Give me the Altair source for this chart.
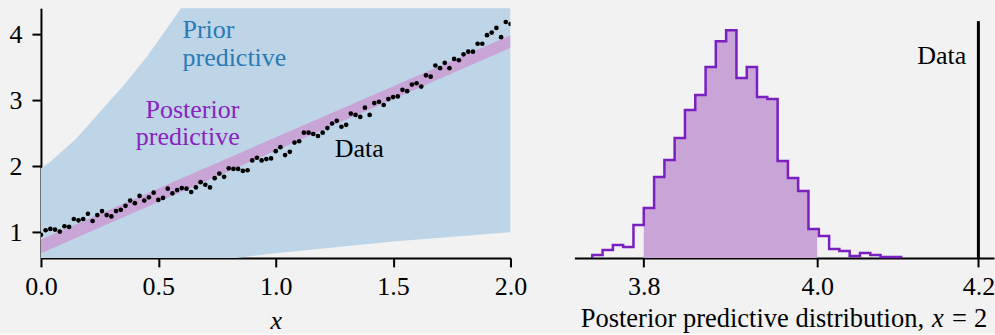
import altair as alt
import pandas as pd

FONT = "Liberation Serif"

# ---------------- data ----------------
data_x = [0.00, 0.02, 0.04, 0.06, 0.08, 0.10, 0.12, 0.14, 0.16, 0.18,
          0.20, 0.22, 0.24, 0.26, 0.28, 0.30, 0.32, 0.34, 0.36, 0.38,
          0.40, 0.42, 0.44, 0.46, 0.48, 0.50, 0.52, 0.54, 0.56, 0.58,
          0.60, 0.62, 0.64, 0.66, 0.68, 0.70, 0.72, 0.74, 0.76, 0.78,
          0.80, 0.82, 0.84, 0.86, 0.88, 0.90, 0.92, 0.94, 0.96, 0.98,
          1.00, 1.02, 1.04, 1.06, 1.08, 1.10, 1.12, 1.14, 1.16, 1.18,
          1.20, 1.22, 1.24, 1.26, 1.28, 1.30, 1.32, 1.34, 1.36, 1.38,
          1.40, 1.42, 1.44, 1.46, 1.48, 1.50, 1.52, 1.54, 1.56, 1.58,
          1.60, 1.62, 1.64, 1.66, 1.68, 1.70, 1.72, 1.74, 1.76, 1.78,
          1.80, 1.82, 1.84, 1.86, 1.88, 1.90, 1.92, 1.94, 1.96, 1.98,
          2.00]
data_y = [0.96, 1.03, 1.05, 1.04, 1.01, 1.09, 1.08, 1.20, 1.18, 1.20,
          1.28, 1.17, 1.26, 1.32, 1.26, 1.24, 1.32, 1.34, 1.40, 1.48,
          1.44, 1.55, 1.48, 1.53, 1.60, 1.49, 1.52, 1.66, 1.59, 1.64,
          1.67, 1.66, 1.61, 1.68, 1.76, 1.72, 1.68, 1.82, 1.89, 1.84,
          1.97, 1.96, 1.96, 1.93, 1.94, 2.09, 2.13, 2.09, 2.11, 2.12,
          2.23, 2.29, 2.17, 2.22, 2.36, 2.38, 2.51, 2.51, 2.49, 2.46,
          2.51, 2.58, 2.65, 2.69, 2.60, 2.63, 2.80, 2.78, 2.75, 2.89,
          2.78, 2.96, 2.98, 2.93, 3.02, 3.05, 3.06, 3.16, 3.14, 3.24,
          3.26, 3.21, 3.38, 3.36, 3.53, 3.49, 3.57, 3.49, 3.63, 3.61,
          3.70, 3.74, 3.74, 3.86, 3.86, 3.99, 4.03, 4.10, 3.96, 4.19,
          4.16]

prior_x = [0.0, 0.04, 0.08, 0.15, 0.25, 0.35, 0.45, 0.55, 0.60, 0.83, 1.0, 1.5, 2.0]
prior_hi = [1.97, 2.07, 2.20, 2.42, 2.82, 3.22, 3.66, 4.16, 4.42, 5.40, 6.10, 8.20, 10.30]
prior_lo = [0.22, 0.24, 0.26, 0.29, 0.34, 0.39, 0.44, 0.49, 0.51, 0.61, 0.68, 0.86, 1.00]

post_x = [0.0, 2.0]
post_lo = [0.68, 3.80]
post_hi = [0.89, 3.99]

hist_edges = [3.7406, 3.7525, 3.7644, 3.7762, 3.7881, 3.8000, 3.8119, 3.8238,
              3.8356, 3.8475, 3.8594, 3.8713, 3.8831, 3.8950, 3.9069, 3.9188,
              3.9306, 3.9425, 3.9544, 3.9663, 3.9781, 3.9900, 4.0019, 4.0138,
              4.0256, 4.0375, 4.0494, 4.0613, 4.0731, 4.0850, 4.0969]
hist_counts = [3, 8, 13, 11, 33, 50, 81, 98, 120, 148, 163, 191, 217, 228, 180,
               191, 161, 159, 97, 80, 67, 29, 22, 9, 7, 2, 5, 3, 1, 1]
data_at_2 = 4.186
fill_range = [3.8, 4.0]

# ---------------- tables ----------------
pts_df = pd.DataFrame({"x": data_x, "y": data_y})
prior_df = pd.DataFrame({"x": prior_x, "lo": prior_lo, "hi": prior_hi})
post_df = pd.DataFrame({"x": post_x, "lo": post_lo, "hi": post_hi})

outline = [(hist_edges[0], 0)]
for e, c in zip(hist_edges[:-1], hist_counts):
    outline.append((e, c))
outline.append((hist_edges[-1], hist_counts[-1]))
outline.append((hist_edges[-1], 0))
outline_df = pd.DataFrame({"x": [p[0] for p in outline],
                           "c": [p[1] for p in outline],
                           "i": list(range(len(outline)))})

lo_f, hi_f = fill_range
fill = []
for k, c in enumerate(hist_counts):
    a, b = hist_edges[k], hist_edges[k + 1]
    if b <= lo_f or a >= hi_f:
        continue
    fill.append((max(a, lo_f), c))
    last_c = c
fill.append((hi_f, last_c))
fill_df = pd.DataFrame({"x": [p[0] for p in fill], "c": [p[1] for p in fill]})

# ---------------- left panel ----------------
xs = alt.Scale(domain=[0, 2], nice=False)
ys = alt.Scale(domain=[0.61, 4.40], nice=False, zero=False)

prior = alt.Chart(prior_df).mark_area(color="#bdd5e7", clip=True).encode(
    x=alt.X("x:Q", scale=xs,
            axis=alt.Axis(values=[0, 0.5, 1, 1.5, 2], format=".1f", title="x",
                          titleFontStyle="italic", titlePadding=8,
                          labelFlush=False)),
    y=alt.Y("hi:Q", scale=ys,
            axis=alt.Axis(values=[1, 2, 3, 4], format="d", title=None,
                          labelFlush=False)),
    y2="lo:Q",
)
post = alt.Chart(post_df).mark_area(color="#c9a4d6", clip=True).encode(
    x=alt.X("x:Q", scale=xs), y=alt.Y("hi:Q", scale=ys), y2="lo:Q")
pts = alt.Chart(pts_df).mark_circle(color="black", size=22, opacity=1, clip=True).encode(
    x=alt.X("x:Q", scale=xs), y=alt.Y("y:Q", scale=ys))


def label(txt, x, y, color, align="left", style="normal", size=26):
    return alt.Chart(pd.DataFrame({"t": [txt]})).mark_text(
        font=FONT, fontSize=size, color=color, align=align, baseline="alphabetic",
        fontStyle=style,
    ).encode(text="t:N", x=alt.value(x), y=alt.value(y))


left = alt.layer(
    prior, post, pts,
    label("Prior", 141.7, 30.3, "#2a7ab6"),
    label("predictive", 141.7, 57.7, "#2a7ab6"),
    label("Posterior", 104.7, 110.3, "#8a22bf"),
    label("predictive", 95, 136.7, "#8a22bf"),
    label("Data", 294, 149, "black"),
).properties(width=470, height=250)

# ---------------- right panel ----------------
hx = alt.Scale(domain=[3.72, 4.204], nice=False, zero=False)
hy = alt.Scale(domain=[0, 250], nice=False)

hfill = alt.Chart(fill_df).mark_area(color="#c9a4d6", interpolate="step-after",
                                     opacity=1).encode(
    x=alt.X("x:Q", scale=hx,
            axis=alt.Axis(values=[3.8, 4.0, data_at_2], format=".1f",
                          title=None, labelFlush=False)),
    y=alt.Y("c:Q", scale=hy, axis=None, stack=None),
)
hline = alt.Chart(outline_df).mark_line(color="#7a1fc0", strokeWidth=2.5,
                                        interpolate="step-after").encode(
    x=alt.X("x:Q", scale=hx), y=alt.Y("c:Q", scale=hy), order="i:Q")
rule = alt.Chart(pd.DataFrame({"x": [data_at_2], "y0": [0], "y1": [237]})).mark_rule(
    color="black", strokeWidth=3).encode(
    x=alt.X("x:Q", scale=hx), y=alt.Y("y0:Q", scale=hy), y2="y1:Q")

right = alt.layer(
    hfill, hline, rule,
    label("Data", 392.3, 56, "black", align="right"),
    label("Posterior predictive distribution,", 350, 319, "black",
          align="right", size=26.5),
    label("x", 358, 319, "black", style="italic", size=26.5),
    label("=", 378, 319, "black", size=26.5),
    label("2", 400, 319, "black", size=26.5),
).properties(width=420, height=250)

chart = alt.hconcat(left, right, spacing=64, bounds="flush").properties(
    padding={"left": 9, "top": 8, "right": 0, "bottom": 0},
    background="#f2f2f2",
).configure_view(stroke=None).configure_axis(
    grid=False, domainColor="black", domainWidth=2, tickColor="black",
    tickWidth=2, tickSize=9, labelFont=FONT, labelFontSize=26,
    labelColor="black", titleFont=FONT, titleFontSize=26, titleColor="black",
    titleFontWeight="normal", labelPadding=7,
).configure_axisY(labelPadding=10)

chart.save("out.html", embed_options={"renderer": "svg", "actions": False})
